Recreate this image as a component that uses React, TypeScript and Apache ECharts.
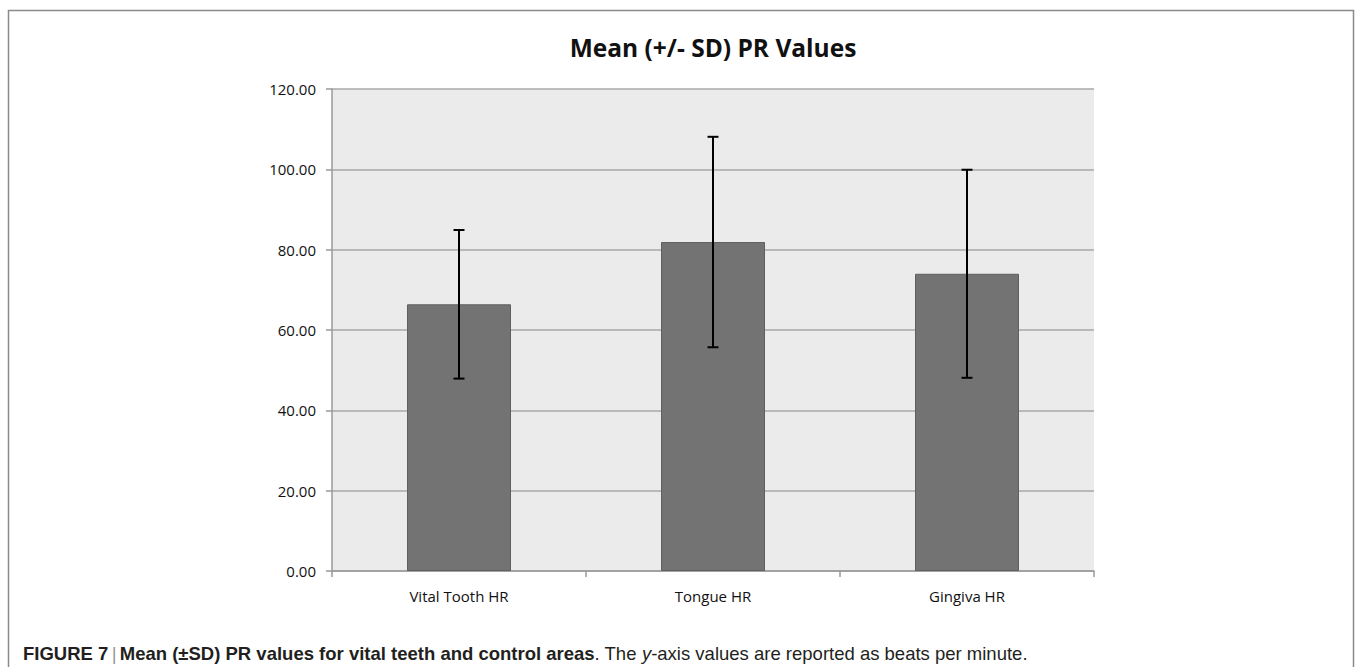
import React, { useEffect, useRef } from "react";
import * as echarts from "echarts";

const categories = ["Vital Tooth HR", "Tongue HR", "Gingiva HR"];
const means = [66.4, 81.9, 74.0];
const sds = [18.5, 26.2, 25.9];
const yTicks = { min: 0, max: 120, interval: 20 };
const titleText = "Mean (+/- SD) PR Values";

export default function App() {
  const ref = useRef<HTMLDivElement>(null);
  useEffect(() => {
    if (!ref.current) return;
    const chart = echarts.init(ref.current, undefined, { renderer: "svg" });
    const errData = means.map((m, i) => [i, m + sds[i], m - sds[i]]);
    const capFont = "'Liberation Sans', Arial, sans-serif";
    chart.setOption({
      animation: false,
      grid: { left: 332, right: 263, top: 89, bottom: 96, show: true, backgroundColor: "#ebebeb", borderWidth: 0 },
      graphic: [
        {
          type: "rect",
          shape: { x: 8.5, y: 10.5, width: 1345, height: 700 },
          style: { fill: "none", stroke: "#8a8a8a", lineWidth: 1.5 },
          silent: true,
        },
        {
          type: "text",
          x: 713,
          y: 47,
          style: {
            text: titleText,
            font: "bold 24.5px 'Open Sans', sans-serif",
            fill: "#111",
            textAlign: "center",
            textVerticalAlign: "middle",
          },
        },
        {
          type: "text",
          x: 23,
          y: 653,
          style: {
            text: "{b|FIGURE 7} {s||} {b|Mean (±SD) PR values for vital teeth and control areas}{n|. The }{i|y}{n|-axis values are reported as beats per minute.}",
            textVerticalAlign: "middle",
            rich: {
              b: { font: `bold 18.5px ${capFont}`, fill: "#231f20" },
              s: { font: `18.5px ${capFont}`, fill: "#999" },
              n: { font: `18.5px ${capFont}`, fill: "#231f20" },
              i: { font: `italic 18.5px ${capFont}`, fill: "#231f20" },
            },
          },
        },
      ],
      xAxis: {
        type: "category",
        data: categories,
        axisLine: { lineStyle: { color: "#9a9a9a", width: 1.5 } },
        axisTick: { show: true, length: 6, lineStyle: { color: "#9a9a9a", width: 1.5 } },
        axisLabel: { color: "#111", fontFamily: "'Open Sans', sans-serif", fontSize: 15, margin: 17 },
      },
      yAxis: {
        type: "value",
        min: yTicks.min,
        max: yTicks.max,
        interval: yTicks.interval,
        axisLine: { show: true, lineStyle: { color: "#9a9a9a", width: 1.5 } },
        axisTick: { show: true, length: 6, lineStyle: { color: "#9a9a9a", width: 1.5 } },
        splitLine: { show: true, lineStyle: { color: "#a8a8a8", width: 1.5 } },
        axisLabel: {
          color: "#111",
          fontFamily: "'Open Sans', sans-serif",
          fontSize: 15,
          margin: 16,
          formatter: (v: number) => v.toFixed(2),
        },
      },
      series: [
        {
          type: "bar",
          data: means,
          barWidth: 104,
          itemStyle: { color: "#737373", borderColor: "#5f5f5f", borderWidth: 1 },
          z: 2,
        },
        {
          type: "custom",
          data: errData,
          z: 5,
          renderItem: (params: any, api: any) => {
            const x = api.value(0);
            const hi = api.coord([x, api.value(1)]);
            const lo = api.coord([x, api.value(2)]);
            const cap = 5.5;
            const style = { stroke: "#000", lineWidth: 2 };
            return {
              type: "group",
              children: [
                { type: "line", shape: { x1: hi[0], y1: hi[1], x2: lo[0], y2: lo[1] }, style },
                { type: "line", shape: { x1: hi[0] - cap, y1: hi[1], x2: hi[0] + cap, y2: hi[1] }, style },
                { type: "line", shape: { x1: lo[0] - cap, y1: lo[1], x2: lo[0] + cap, y2: lo[1] }, style },
              ],
            };
          },
        },
      ],
    });
    return () => chart.dispose();
  }, []);
  return (
    <div
      ref={ref}
      style={{ position: "fixed", left: 0, top: 0, width: 1357, height: 667, background: "#fff" }}
    />
  );
}
